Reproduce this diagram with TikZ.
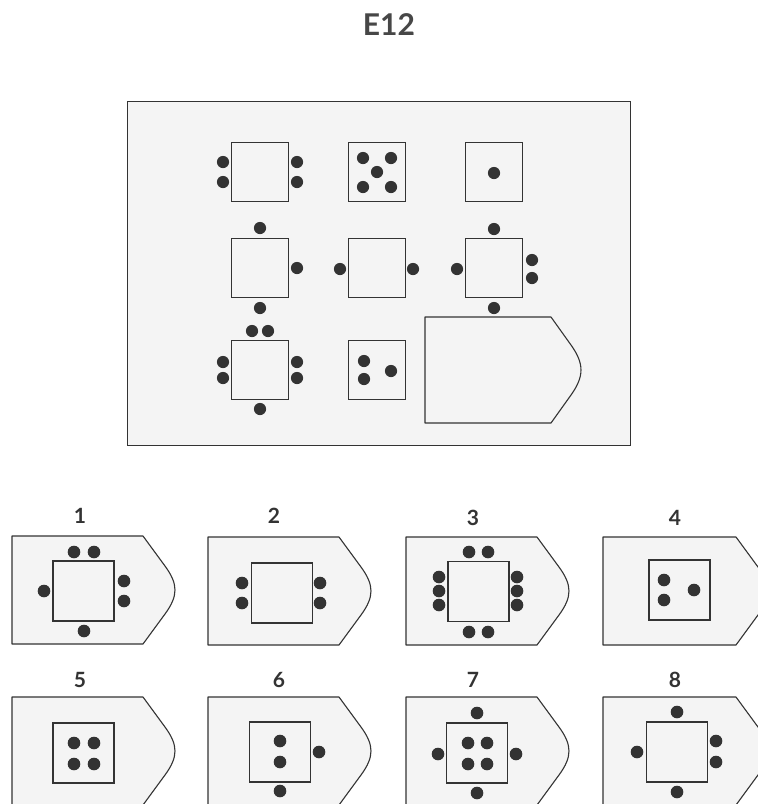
\documentclass[tikz,border=0pt]{standalone}
\usepackage{fontspec}
\setmainfont{Lato}
\usepackage{xcolor}
\usepackage{tikz}
\definecolor{ink}{HTML}{333333}
\definecolor{paper}{HTML}{F4F4F4}

\begin{document}
\begin{tikzpicture}[x=1pt, y=-1pt, color=ink, line width=1.1pt,
  cell/.style={draw=ink, minimum width=57pt, minimum height=59pt, inner sep=0pt},
  bigcell/.style={cell, minimum width=61pt, minimum height=60pt},
  num/.style={font=\fontsize{21}{21}\selectfont\bfseries, text=ink},
  slot/.style={draw=ink, fill=paper, line join=round}]
\useasboundingbox (0,0) rectangle (758,804);
\fill[white] (0,0) rectangle (758,804);
\clip (0,0) rectangle (758,804);
\node[font=\fontsize{30}{30}\selectfont\bfseries, text=ink!90] (title) at (389,25) {E12};

% matrix
\node[draw=ink, fill=paper, line width=1pt, minimum width=503pt, minimum height=344pt] (panel) at (378.5,273) {};
\node[cell] (a1) at (260,172) {}; \node[cell] (a2) at (377,172) {}; \node[cell] (a3) at (494,172) {};
\node[cell] (b1) at (260,268) {}; \node[cell] (b2) at (377,268) {}; \node[cell] (b3) at (494,268) {};
\node[cell] (c1) at (260,370) {}; \node[cell] (c2) at (377,370) {};
\draw[slot] (425,317) -- (551,317) -- (571,345) .. controls (584.3,363.7) and (584.3,376.3) .. (571,395) -- (551,423) -- (425,423) -- cycle;
\foreach \p in {(223,162),(223,182),(297,162),(297,182), (363,158),(391,158),(377,172),(363,187),(391,187), (494,173),
  (260,228),(260,308),(297,268), (340,269),(413,269), (494,229),(457,269),(532,260),(532,278),(494,308),
  (252,331),(268,331),(223,362),(223,378),(297,362),(297,378),(260,409), (364,361),(364,379),(391,371)}
  \fill \p circle (6.1);

% answers
\foreach \l/\t/\w in {12/536/131, 208/537/131, 406/537/131, 603/537/133, 12/697/131, 208/697/131, 406/697/131, 603/697/133}
  \draw[slot] (\l,\t) -- (\l+\w,\t) -- (\l+\w+22,\t+30) .. controls (\l+\w+35.3,\t+48.2) and (\l+\w+35.3,\t+59.8) .. (\l+\w+22,\t+78) -- (\l+\w,\t+108) -- (\l,\t+108) -- cycle;
\node[num] (n1) at (80,516) {1}; \node[num] (n2) at (274,516) {2}; \node[num] (n3) at (473,518) {3}; \node[num] (n4) at (675,518) {4};
\node[num] (n5) at (80,680) {5}; \node[num] (n6) at (279,680) {6}; \node[num] (n7) at (473,680) {7}; \node[num] (n8) at (675,680) {8};
\node[bigcell] (o1) at (83.5,591) {}; \node[bigcell] (o2) at (282,593) {}; \node[bigcell] (o3) at (478.5,591.5) {}; \node[bigcell] (o4) at (679.5,590) {};
\node[bigcell] (o5) at (83.5,753) {}; \node[bigcell] (o6) at (280,752) {}; \node[bigcell] (o7) at (477,753) {}; \node[bigcell] (o8) at (677,752) {};
\foreach \p in {(74,552),(94,552),(44,591),(124,581),(124,601),(84,631), (242,583),(242,603),(320,583),(320,603),
  (469,552),(488,552),(439,577),(439,591),(439,605),(517,577),(517,591),(517,605),(469,632),(488,632), (664,580),(664,600),(694,590),
  (74,743),(94,743),(74,764),(94,764), (280,741),(280,762),(319,752),(280,791),
  (477,713),(477,793),(438,754),(516,754),(468,743),(487,743),(468,764),(487,764), (677,712),(677,792),(637,752),(716,741),(716,762)}
  \fill \p circle (6.3);
\end{tikzpicture}
\end{document}
